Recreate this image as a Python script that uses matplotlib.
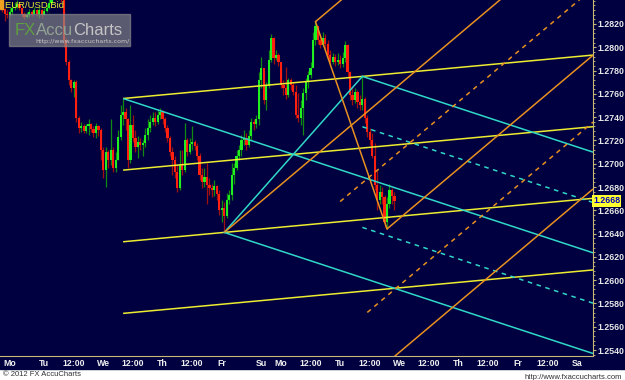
import numpy as np
import matplotlib
matplotlib.use('Agg')
import matplotlib.pyplot as plt
from matplotlib.patches import Rectangle

# hourly EUR/USD bid bars, x = bar index (trading hours from the first Monday)
first_bar = 2
first_open = 1.2834
closes = [1.2833, 1.2829, 1.2828, 1.2830, 1.2834, 1.2835, 1.2837, 1.2834, 1.2829, 1.2826,
          1.2828, 1.2830, 1.2829, 1.2832, 1.2829, 1.2832, 1.2828, 1.2831, 1.2834, 1.2838,
          1.2844, 1.2846, 1.2843, 1.2845, 1.2842, 1.2806, 1.2787, 1.2772, 1.2765, 1.2770,
          1.2739, 1.2731, 1.2732, 1.2728, 1.2732, 1.2734, 1.2730, 1.2726, 1.2732, 1.2729,
          1.2712, 1.2695, 1.2710, 1.2703, 1.2712, 1.2696, 1.2703, 1.2723, 1.2742, 1.2744,
          1.2738, 1.2703, 1.2733, 1.2722, 1.2714, 1.2719, 1.2716, 1.2718, 1.2725, 1.2731,
          1.2736, 1.2739, 1.2736, 1.2742, 1.2744, 1.2738, 1.2731, 1.2722, 1.2710, 1.2703,
          1.2693, 1.2679, 1.2699, 1.2695, 1.2720, 1.2710, 1.2717, 1.2719, 1.2715, 1.2707,
          1.2690, 1.2684, 1.2689, 1.2682, 1.2679, 1.2677, 1.2681, 1.2674, 1.2660, 1.2662,
          1.2655, 1.2669, 1.2673, 1.2690, 1.2696, 1.2707, 1.2712, 1.2720, 1.2722, 1.2716,
          1.2724, 1.2736, 1.2734, 1.2738, 1.2772, 1.2782, 1.2755, 1.2767, 1.2789, 1.2808,
          1.2791, 1.2793, 1.2787, 1.2768, 1.2765, 1.2759, 1.2772, 1.2768, 1.2762, 1.2742,
          1.2739, 1.2748, 1.2761, 1.2770, 1.2776, 1.2782, 1.2806, 1.2818, 1.2806, 1.2802,
          1.2808, 1.2803, 1.2793, 1.2787, 1.2792, 1.2787, 1.2789, 1.2786, 1.2791, 1.2802,
          1.2779, 1.2759, 1.2755, 1.2762, 1.2753, 1.2750, 1.2756, 1.2739, 1.2727, 1.2720,
          1.2707, 1.2682, 1.2669, 1.2676, 1.2671, 1.2650, 1.2665, 1.2677, 1.2672, 1.2668]
highs = [1.2836, 1.2834, 1.2832, 1.2834, 1.2837, 1.2839, 1.2841, 1.2838, 1.2835, 1.2830,
         1.2830, 1.2833, 1.2832, 1.2835, 1.2833, 1.2835, 1.2833, 1.2834, 1.2836, 1.2842,
         1.2847, 1.2849, 1.2848, 1.2848, 1.2847, 1.2844, 1.2808, 1.2789, 1.2773, 1.2772,
         1.2772, 1.2741, 1.2736, 1.2734, 1.2734, 1.2738, 1.2735, 1.2732, 1.2735, 1.2733,
         1.2731, 1.2714, 1.2714, 1.2712, 1.2738, 1.2714, 1.2710, 1.2729, 1.2750, 1.2756,
         1.2748, 1.2739, 1.2750, 1.2742, 1.2729, 1.2724, 1.2722, 1.2720, 1.2731, 1.2738,
         1.2742, 1.2744, 1.2744, 1.2746, 1.2748, 1.2746, 1.2740, 1.2733, 1.2724, 1.2714,
         1.2707, 1.2699, 1.2712, 1.2712, 1.2735, 1.2722, 1.2722, 1.2732, 1.2720, 1.2718,
         1.2709, 1.2696, 1.2696, 1.2701, 1.2688, 1.2683, 1.2686, 1.2682, 1.2677, 1.2669,
         1.2667, 1.2675, 1.2677, 1.2701, 1.2701, 1.2712, 1.2716, 1.2725, 1.2729, 1.2726,
         1.2729, 1.2739, 1.2738, 1.2742, 1.2779, 1.2792, 1.2780, 1.2770, 1.2798, 1.2811,
         1.2809, 1.2798, 1.2795, 1.2787, 1.2772, 1.2783, 1.2774, 1.2774, 1.2770, 1.2768,
         1.2761, 1.2755, 1.2765, 1.2774, 1.2780, 1.2787, 1.2813, 1.2822, 1.2817, 1.2811,
         1.2813, 1.2811, 1.2806, 1.2798, 1.2795, 1.2794, 1.2795, 1.2793, 1.2796, 1.2805,
         1.2803, 1.2780, 1.2765, 1.2765, 1.2763, 1.2759, 1.2775, 1.2757, 1.2742, 1.2731,
         1.2726, 1.2718, 1.2695, 1.2682, 1.2680, 1.2673, 1.2671, 1.2683, 1.2679, 1.2676]
lows = [1.2830, 1.2823, 1.2825, 1.2827, 1.2829, 1.2832, 1.2834, 1.2832, 1.2826, 1.2824,
        1.2825, 1.2826, 1.2827, 1.2829, 1.2827, 1.2825, 1.2825, 1.2828, 1.2830, 1.2833,
        1.2837, 1.2842, 1.2841, 1.2841, 1.2839, 1.2800, 1.2785, 1.2768, 1.2762, 1.2757,
        1.2736, 1.2726, 1.2727, 1.2726, 1.2726, 1.2725, 1.2727, 1.2723, 1.2722, 1.2724,
        1.2703, 1.2688, 1.2680, 1.2696, 1.2699, 1.2693, 1.2693, 1.2703, 1.2720, 1.2733,
        1.2729, 1.2696, 1.2701, 1.2719, 1.2710, 1.2705, 1.2712, 1.2707, 1.2714, 1.2720,
        1.2727, 1.2733, 1.2732, 1.2734, 1.2738, 1.2734, 1.2727, 1.2719, 1.2707, 1.2690,
        1.2688, 1.2676, 1.2677, 1.2690, 1.2693, 1.2707, 1.2708, 1.2712, 1.2712, 1.2703,
        1.2686, 1.2679, 1.2680, 1.2665, 1.2673, 1.2671, 1.2672, 1.2669, 1.2656, 1.2650,
        1.2641, 1.2653, 1.2665, 1.2669, 1.2683, 1.2695, 1.2703, 1.2707, 1.2716, 1.2712,
        1.2714, 1.2720, 1.2729, 1.2731, 1.2733, 1.2765, 1.2751, 1.2746, 1.2765, 1.2787,
        1.2786, 1.2789, 1.2784, 1.2765, 1.2759, 1.2756, 1.2757, 1.2763, 1.2759, 1.2739,
        1.2736, 1.2733, 1.2725, 1.2755, 1.2765, 1.2774, 1.2784, 1.2802, 1.2803, 1.2799,
        1.2801, 1.2798, 1.2791, 1.2785, 1.2786, 1.2784, 1.2785, 1.2782, 1.2783, 1.2787,
        1.2774, 1.2755, 1.2750, 1.2752, 1.2748, 1.2746, 1.2746, 1.2735, 1.2723, 1.2716,
        1.2705, 1.2677, 1.2660, 1.2665, 1.2665, 1.2646, 1.2644, 1.2662, 1.2665, 1.2660]

tick_pos = [2.6, 19, 31, 43, 55, 67, 79, 91, 107, 115, 127, 139, 151, 163, 175,
            187, 199, 211, 223, 235]
tick_lab = ['Mo', 'Tu', '12:00', 'We', '12:00', 'Th', '12:00', 'Fr', 'Su', 'Mo', '12:00',
            'Tu', '12:00', 'We', '12:00', 'Th', '12:00', 'Fr', '12:00', 'Sa']
price_ticks = [1.2540, 1.2560, 1.2580, 1.2600, 1.2620, 1.2640, 1.2660, 1.2680,
               1.2700, 1.2720, 1.2740, 1.2760, 1.2780, 1.2800, 1.2820]
last_price = 1.2668

# swing points used by the drawing tools (bar index)
piv_a, piv_b, piv_c = 51, 92, 148      # high, low, high
piv_d, piv_e = 129, 158                # high, low

navy = '#000040'
yellow = '#ecec30'
cyan = '#30d8c8'
orange = '#e89020'
tan = '#c8b878'
lab_font = dict(family='Liberation Sans', weight='bold', size=6.3)

closes = np.array(closes)
highs = np.array(highs)
lows = np.array(lows)
idx = np.arange(first_bar, first_bar + len(closes))
opens = np.r_[first_open, closes[:-1]]

fig = plt.figure(figsize=(6.25, 3.8), dpi=100, facecolor='white')
fig.patches.append(Rectangle((0, 11 / 380), 1, 1, transform=fig.transFigure,
                             color=navy, zorder=-10))
ax = fig.add_axes([0, 24 / 380, 593 / 625, 356 / 380])
ax.set_facecolor(navy)
x0, x1 = 1.1, 241.5
ax.set_xlim(x0, x1)
ax.set_ylim(1.253485, 1.284061)

# candles
up = closes >= opens
blo = np.minimum(opens, closes)
bh = np.maximum(np.abs(closes - opens), 0.00005)
ax.vlines(idx[up], lows[up], highs[up], color='#108a10', lw=0.9, zorder=2)
ax.vlines(idx[~up], lows[~up], highs[~up], color='#a01010', lw=0.9, zorder=2)
ax.bar(idx[up], bh[up], bottom=blo[up], width=0.9, color='#20f020', lw=0, zorder=2)
ax.bar(idx[~up], bh[~up], bottom=blo[~up], width=0.9, color='#ff2010', lw=0, zorder=2)


def line(xs, y0, slope, color, ls='-'):
    ax.plot([xs, x1], [y0, y0 + slope * (x1 - xs)], color=color, lw=1.1, ls=ls,
            zorder=3, solid_capstyle='butt')


def bar_i(b):
    return b - first_bar


pa, pb, pc = highs[bar_i(piv_a)], lows[bar_i(piv_b)], highs[bar_i(piv_c)]
pd_, pe = highs[bar_i(piv_d)], lows[bar_i(piv_e)]

# yellow channel through the two highs, parallel through the low
s = (pc - pa) / (piv_c - piv_a)
w = pa + s * (piv_b - piv_a) - pb
for f in [0, 0.5, 1, 1.5]:
    line(piv_a, pa - f * w, s, yellow)

# cyan pitchfork a-b-c
mx, my = (piv_b + piv_c) / 2, (pb + pc) / 2
s = (my - pa) / (mx - piv_a)
off = pc - (pa + s * (piv_c - piv_a))
line(piv_a, pa, s, cyan)
line(piv_b, pb, s, cyan)
line(piv_c, pc, s, cyan)
for f in [0.5, -0.5]:
    line(piv_c, pa + s * (piv_c - piv_a) + f * off, s, cyan, ls=(0, (3, 3)))
ax.plot([piv_b, piv_c], [pb, pc], color=cyan, lw=1.1, zorder=3)

# orange pitchfork b-d-e
mx, my = (piv_d + piv_e) / 2, (pd_ + pe) / 2
s = (my - pb) / (mx - piv_b)
off = pe - (pb + s * (piv_e - piv_b))
line(piv_b, pb, s, orange)
line(piv_d, pd_, s, orange)
line(piv_e, pe, s, orange)
line(piv_b, pb + 2 * off, s, orange)
for f, xs in [(0.5, 139), (1.5, 150)]:
    line(xs, pb + s * (xs - piv_b) + f * off, s, orange, ls=(0, (3, 3)))
ax.plot([piv_d, piv_e], [pd_, pe], color=orange, lw=1.1, zorder=3)

# axes styling
for sp in ['top', 'left']:
    ax.spines[sp].set_visible(False)
ax.spines['right'].set_color(tan)
ax.spines['bottom'].set_color(tan)
ax.spines['bottom'].set_linestyle((0, (1, 1)))
ax.yaxis.tick_right()
ax.set_yticks(price_ticks)
ax.set_yticklabels(['%.4f' % p for p in price_ticks], fontdict=lab_font)
ax.set_yticks(np.arange(1.2536, 1.2842, 0.0004), minor=True)
ax.tick_params(axis='y', which='major', colors=tan, labelcolor='#e8e8e8',
               length=2.5, width=0.8, pad=1)
ax.tick_params(axis='y', which='minor', colors=tan, length=1.5, width=0.6)
ax.set_xticks(tick_pos)
ax.set_xticklabels(tick_lab, fontdict=lab_font)
ax.tick_params(axis='x', length=0, labelcolor='#f0f0f0', pad=2.5)
ax.get_xticklabels()[0].set_ha('left')

ax.text(1.0, last_price, '1.2668', transform=ax.get_yaxis_transform(),
        ha='left', va='center', color='#0000c0', zorder=5, clip_on=False,
        bbox=dict(boxstyle='square,pad=0.12', fc='#ffff30', ec='none'),
        **lab_font)

# header and watermark
fig.patches.append(Rectangle((0, 1 - 9 / 380), 3 / 625, 9 / 380,
                             transform=fig.transFigure, color='#f0a020'))
fig.text(5 / 625, 1 - 1 / 380, 'EUR/USD Bid', color=yellow, fontsize=6.8,
         family='Liberation Sans', va='top', ha='left')
fig.patches.append(Rectangle((9 / 625, 1 - 46 / 380), 121 / 625, 32 / 380,
                             transform=fig.transFigure, color='#8c8c8c',
                             alpha=0.65, zorder=4))
fig.text(15 / 625, 1 - 35 / 380, 'FX', color='#5f9f3f', fontsize=12,
         family='Liberation Sans', zorder=5)
fig.text(36 / 625, 1 - 35 / 380, 'Accu', color='#93a393', fontsize=12,
         family='Liberation Sans', zorder=5)
fig.text(73 / 625, 1 - 35 / 380, 'Charts', color='#c4c4c4', fontsize=12,
         family='Liberation Sans', zorder=5)
fig.text(35 / 625, 1 - 43 / 380, 'http://www.fxaccucharts.com/', color='#c8c8c8',
         fontsize=4.5, zorder=5)

fig.text(3 / 625, 4 / 380, '\u00a9 2012 FX AccuCharts', color='#303030',
         fontsize=5.5, family='Liberation Sans')
fig.text(622 / 625, 1 / 380, 'http://www.fxaccucharts.com', color='#303030',
         fontsize=5.5, family='Liberation Sans', ha='right')

fig.savefig('out.png', dpi=100, facecolor='white')
